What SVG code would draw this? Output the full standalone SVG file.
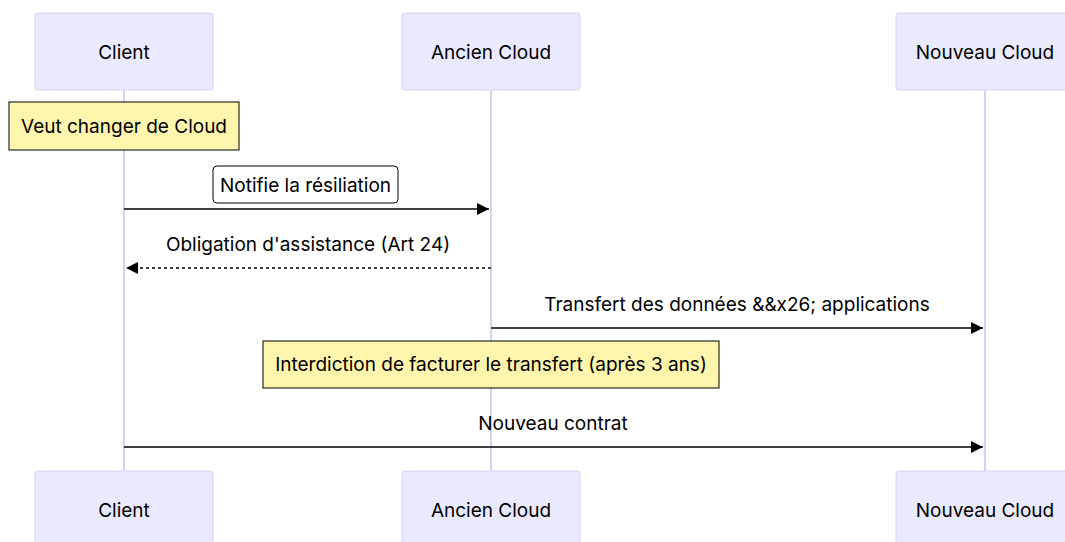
<svg xmlns="http://www.w3.org/2000/svg" width="1065" height="542" viewBox="0 0 1065 542">
<style>
.actor{fill:#eaeaff;stroke:#d6d0f7;stroke-width:1}
.life{stroke:#d6d0f7;stroke-width:2}
.t{font-family:Inter,"Liberation Sans",sans-serif;font-size:19px;fill:#000;text-anchor:middle;dominant-baseline:central}
.note{fill:#fff5ad;stroke:#000;stroke-width:1}
.msg{stroke:#000;stroke-width:1.5;fill:none}
</style>
<defs>
<marker id="ah" viewBox="0 0 12 12" refX="12" refY="6" markerWidth="12" markerHeight="12" markerUnits="userSpaceOnUse" orient="auto">
<path d="M0,0 L12,6 L0,12 z" fill="#000"/>
</marker>
</defs>
<g id="lifelines">
<line class="life" x1="124" y1="90" x2="124" y2="471"/>
<line class="life" x1="491" y1="90" x2="491" y2="471"/>
<line class="life" x1="985" y1="90" x2="985" y2="471"/>
</g>
<g id="actor-client-top"><rect class="actor" x="35" y="13" width="178" height="77" rx="3"/><text class="t" x="124" y="52">Client</text></g>
<g id="actor-ancien-top"><rect class="actor" x="402" y="13" width="178" height="77" rx="3"/><text class="t" x="491" y="52">Ancien Cloud</text></g>
<g id="actor-nouveau-top"><rect class="actor" x="896" y="13" width="178" height="77" rx="3"/><text class="t" x="985" y="52">Nouveau Cloud</text></g>
<g id="actor-client-bottom"><rect class="actor" x="35" y="471" width="178" height="77" rx="3"/><text class="t" x="124" y="510">Client</text></g>
<g id="actor-ancien-bottom"><rect class="actor" x="402" y="471" width="178" height="77" rx="3"/><text class="t" x="491" y="510">Ancien Cloud</text></g>
<g id="actor-nouveau-bottom"><rect class="actor" x="896" y="471" width="178" height="77" rx="3"/><text class="t" x="985" y="510">Nouveau Cloud</text></g>
<g id="note1"><rect class="note" x="9" y="102" width="230" height="48"/><text class="t" x="124" y="126">Veut changer de Cloud</text></g>
<g id="note2"><rect class="note" x="263" y="341" width="456" height="47"/><text class="t" x="491" y="364">Interdiction de facturer le transfert (après 3 ans)</text></g>
<g id="connectors">
<rect x="213" y="166" width="185" height="37" rx="4" fill="#fff" stroke="#000" stroke-width="1"/>
<text class="t" x="305.5" y="185">Notifie la résiliation</text>
<line class="msg" x1="124" y1="209" x2="489" y2="209" marker-end="url(#ah)"/>
<text class="t" x="308" y="244">Obligation d'assistance (Art 24)</text>
<line class="msg" x1="491" y1="268" x2="126" y2="268" stroke-dasharray="3,3" marker-end="url(#ah)"/>
<text class="t" x="737" y="304">Transfert des données &amp;&amp;x26; applications</text>
<line class="msg" x1="491" y1="328" x2="983" y2="328" marker-end="url(#ah)"/>
<text class="t" x="553" y="423">Nouveau contrat</text>
<line class="msg" x1="124" y1="447" x2="983" y2="447" marker-end="url(#ah)"/>
</g>
</svg>
